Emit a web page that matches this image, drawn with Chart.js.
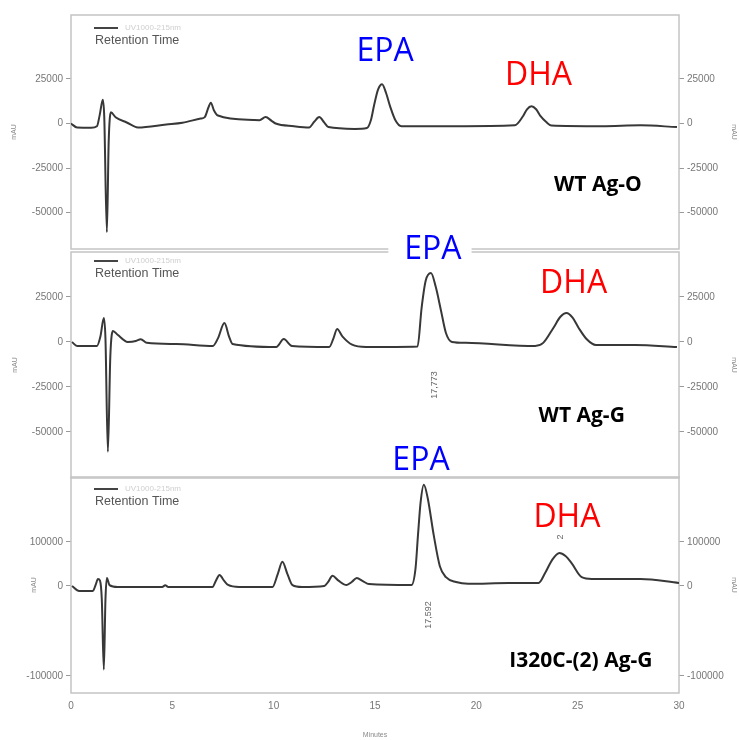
<!DOCTYPE html>
<html>
<head>
<meta charset="utf-8">
<script src="https://cdn.jsdelivr.net/npm/chart.js@4.4.1/dist/chart.umd.min.js"></script>
<style>
  html, body { margin: 0; padding: 0; background: #fff; }
  body { width: 739px; height: 740px; position: relative; overflow: hidden; }
  .panel { position: absolute; left: 0; width: 739px; }
</style>
</head>
<body>
<div class="panel" style="top:0;height:262px"><canvas id="p1"></canvas></div>
<div class="panel" style="top:230px;height:260px"><canvas id="p2"></canvas></div>
<div class="panel" style="top:440px;height:300px"><canvas id="p3"></canvas></div>
<script>
// chromatogram traces (minutes / mAU)
const p1Minutes = [0, 0.3, 1.0, 1.28, 1.42, 1.57, 1.64, 1.77, 1.86, 1.97, 2.2, 2.75, 3.3, 4.7, 5.5, 6.4, 6.6, 6.78, 6.9, 7.05, 7.25, 9.0, 9.3, 9.6, 9.9, 10.1, 11.0, 11.75, 12.0, 12.25, 12.5, 12.7, 14.0, 14.6, 14.8, 14.95, 15.15, 15.35, 15.55, 15.75, 16.0, 16.3, 19.0, 21.9, 22.3, 22.5, 22.72, 22.95, 23.17, 23.45, 23.7, 26.2, 28.1, 29.9]
const p1Mau = [0, -2200, -2300, -1500, 5000, 13400, 4000, -61000, -10000, 6300, 3500, 600, -2200, -500, 500, 2800, 3600, 9000, 11700, 7500, 4500, 2000, 1900, 3600, 1500, 0, -1500, -2200, 1000, 3600, 500, -2000, -3000, -2500, 2000, 10000, 19000, 22000, 17000, 9500, 2000, -1500, -1500, -1000, 4100, 8000, 9700, 8000, 4100, 800, -1100, -1500, -1000, -2000]

const p2Minutes = [0.05, 0.3, 1.28, 1.45, 1.62, 1.7, 1.82, 1.94, 2.07, 2.3, 2.8, 3.2, 3.44, 3.74, 5.2, 7.0, 7.25, 7.57, 7.8, 7.97, 10.13, 10.5, 10.9, 12.74, 12.95, 13.13, 13.4, 13.87, 14.56, 17.1, 17.3, 17.5, 17.76, 18.0, 18.25, 18.5, 18.8, 19.48, 22.9, 23.3, 23.8, 24.15, 24.45, 24.75, 25.05, 25.45, 25.9, 27.84, 29.9]
const p2Mau = [0, -2200, -2200, 3000, 13300, 2000, -61000, -8000, 6100, 4000, 0, 500, 1500, -500, -1100, -2200, 2000, 10500, 3000, -1100, -2800, 1600, -2200, -2800, 2000, 7200, 3000, -1500, -2800, -2500, 19000, 34000, 38300, 30500, 17800, 5000, 0, -500, -2200, -500, 7800, 14000, 16100, 13500, 7800, 1500, -1700, -1700, -2800]

const p3Minutes = [0.05, 0.4, 1.08, 1.22, 1.33, 1.43, 1.52, 1.62, 1.7, 1.77, 1.9, 2.3, 4.5, 4.65, 4.8, 6.98, 7.15, 7.33, 7.55, 7.75, 8.3, 9.94, 10.2, 10.43, 10.68, 10.93, 11.4, 12.5, 12.7, 12.9, 13.2, 13.6, 13.85, 14.1, 14.4, 14.7, 16.8, 17.0, 17.12, 17.25, 17.41, 17.6, 17.9, 18.2, 18.5, 19.0, 19.6, 21.6, 23.07, 23.4, 23.75, 24.1, 24.4, 24.7, 25.2, 25.7, 28.1, 30.0]
const p3Mau = [0, -5500, -5500, 3000, 16000, 12000, -15000, -93000, -15000, 18000, 2000, -1100, -1100, 1500, -1100, -1100, 12000, 25000, 12000, 2300, -1100, -1100, 27000, 55000, 27000, 2000, -1100, 0, 10000, 23000, 12000, 2300, 9000, 18000, 11000, 4500, 2300, 40000, 115000, 190000, 230000, 200000, 115000, 45000, 20000, 9000, 5000, 6800, 6800, 30000, 60000, 75000, 68000, 52000, 20000, 16000, 16000, 6800]

const smallTicks = [25000, 0, -25000, -50000]
const bigTicks = [100000, 0, -100000]
const minuteTicks = [0, 5, 10, 15, 20, 25, 30]
const sampleNames = ['WT Ag-O', 'WT Ag-G', 'I320C-(2) Ag-G']
const peakNames = ['EPA', 'DHA']
const retention = ['17,773', '17,592', '2']

// the scan's lower panel has a squashed positive half, so negatives get stretched
class SplitLinearScale extends Chart.LinearScale {
  determineDataLimits() {
    super.determineDataLimits()
    const k = this.options.negStretch || 1
    if (this.min < 0) this.min *= k
    if (this.max < 0) this.max *= k
  }
  getPixelForValue(value) {
    const k = this.options.negStretch || 1
    return super.getPixelForValue(value < 0 ? value * k : value)
  }
  getValueForPixel(pixel) {
    const k = this.options.negStretch || 1
    const v = super.getValueForPixel(pixel)
    return v < 0 ? v / k : v
  }
}
SplitLinearScale.id = 'splitLinear'
SplitLinearScale.defaults = Chart.LinearScale.defaults
Chart.register(SplitLinearScale)

const axisFont = { family: 'Liberation Sans, Arial, sans-serif', size: 10 }
const bigFont = '32px "Open Sans", sans-serif'
const nameFont = 'bold 21px "Open Sans", sans-serif'
const rtFont = '9px "Liberation Sans", Arial, sans-serif'
const BLUE = '#0000ff'
const RED = '#ff0000'

function panelPlugin(cfg) {
  return {
    id: 'panelDecor',
    beforeDatasetsDraw(chart) {
      const { ctx, chartArea: a } = chart
      ctx.save()
      ctx.strokeStyle = '#c4c4c4'
      ctx.lineWidth = 1.5
      ctx.strokeRect(a.left, a.top, a.right - a.left, a.bottom - a.top)
      ctx.restore()
    },
    afterDraw(chart) {
      const { ctx, chartArea: a, scales } = chart
      ctx.save()
      // legend box, top-left
      const ly = a.top + cfg.legendY
      ctx.strokeStyle = '#444'
      ctx.lineWidth = 2
      ctx.beginPath()
      ctx.moveTo(a.left + 23, ly)
      ctx.lineTo(a.left + 47, ly)
      ctx.stroke()
      ctx.fillStyle = '#cfcfcf'
      ctx.font = '8px "Liberation Sans", Arial, sans-serif'
      ctx.textBaseline = 'middle'
      ctx.fillText('UV1000-215nm', a.left + 54, ly)
      ctx.fillStyle = '#555'
      ctx.font = '12.5px "Liberation Sans", Arial, sans-serif'
      ctx.textBaseline = 'alphabetic'
      ctx.fillText('Retention Time', a.left + 24, ly + 16)

      cfg.notes.forEach((n) => {
        const px = scales.x.getPixelForValue(n.x)
        const py = scales.y.getPixelForValue(n.y)
        ctx.save()
        ctx.font = n.font
        ctx.textAlign = 'center'
        if (n.bg) {
          const w = ctx.measureText(n.text).width
          ctx.fillStyle = '#fff'
          ctx.fillRect(px - w / 2 - 16, py - 27, w + 26, 33)
        }
        ctx.fillStyle = n.color
        if (n.rotate) {
          ctx.textBaseline = 'middle'
          ctx.translate(px, py)
          ctx.rotate(-Math.PI / 2)
          ctx.fillText(n.text, 0, 0)
        } else {
          ctx.textBaseline = 'alphabetic'
          ctx.fillText(n.text, px, py)
        }
        ctx.restore()
      })
      ctx.restore()
    },
  }
}

function makePanel(id, cfg) {
  const yAxis = (pos) => ({
    type: cfg.negStretch ? 'splitLinear' : 'linear',
    position: pos,
    min: cfg.yMin,
    max: cfg.yMax,
    negStretch: cfg.negStretch,
    afterBuildTicks: (s) => {
      s.ticks = cfg.yTicks.map((v) => ({ value: v }))
    },
    afterFit: (s) => {
      s.width = pos === 'left' ? 71 : 60
    },
    grid: { drawOnChartArea: false, color: '#9a9a9a', tickLength: 5 },
    border: { display: false },
    ticks: { font: axisFont, color: '#777', padding: 3, callback: (v) => String(v) },
    title: {
      display: true,
      text: 'mAU',
      color: '#8a8a8a',
      font: { family: 'Liberation Sans, Arial, sans-serif', size: 7 },
      padding: { top: pos === 'left' ? cfg.titlePad : 1, bottom: 0 },
    },
  })

  return new Chart(document.getElementById(id), {
    type: 'line',
    data: {
      datasets: [
        {
          label: 'UV1000-215nm',
          data: cfg.minutes.map((m, i) => ({ x: m, y: cfg.mau[i] })),
          borderColor: '#383838',
          borderWidth: 2,
          pointRadius: 0,
          cubicInterpolationMode: 'monotone',
          fill: false,
        },
      ],
    },
    options: {
      responsive: true,
      maintainAspectRatio: false,
      animation: false,
      events: [],
      layout: { autoPadding: false, padding: { top: cfg.padTop, bottom: cfg.padBottom, left: 0, right: 0 } },
      plugins: { legend: { display: false }, tooltip: { enabled: false } },
      scales: {
        x: {
          type: 'linear',
          display: cfg.showX,
          min: 0,
          max: 30,
          afterBuildTicks: (s) => {
            s.ticks = minuteTicks.map((v) => ({ value: v }))
          },
          afterFit: (s) => {
            if (cfg.showX) s.height = 47
          },
          grid: { drawOnChartArea: false, drawTicks: false },
          border: { display: false },
          ticks: { font: axisFont, color: '#777', padding: 7, maxRotation: 0, callback: (v) => String(v) },
          title: {
            display: true,
            text: 'Minutes',
            color: '#8a8a8a',
            font: { family: 'Liberation Sans, Arial, sans-serif', size: 7 },
            padding: { top: 0, bottom: 1 },
          },
        },
        y: yAxis('left'),
        y2: yAxis('right'),
      },
    },
    plugins: [panelPlugin(cfg)],
  })
}

makePanel('p1', {
  minutes: p1Minutes,
  mau: p1Mau,
  yMin: -70400,
  yMax: 60900,
  yTicks: smallTicks,
  padTop: 15,
  padBottom: 13,
  titlePad: 10,
  legendY: 13,
  showX: false,
  notes: [
    { text: peakNames[0], x: 15.5, y: 35200, color: BLUE, font: bigFont },
    { text: peakNames[1], x: 23.07, y: 21800, color: RED, font: bigFont },
    { text: sampleNames[0], x: 26.0, y: -38000, color: '#000', font: nameFont },
  ],
})

makePanel('p2', {
  minutes: p2Minutes,
  mau: p2Mau,
  yMin: -75600,
  yMax: 50000,
  yTicks: smallTicks,
  padTop: 22,
  padBottom: 12,
  titlePad: 11,
  legendY: 9,
  showX: false,
  notes: [
    { text: peakNames[0], x: 17.86, y: 46100, color: BLUE, font: bigFont, bg: true },
    { text: peakNames[1], x: 24.8, y: 27200, color: RED, font: bigFont },
    { text: sampleNames[1], x: 25.2, y: -44500, color: '#000', font: nameFont },
    { text: retention[0], x: 17.96, y: -23900, color: '#666', font: rtFont, rotate: true },
  ],
})

makePanel('p3', {
  minutes: p3Minutes,
  mau: p3Mau,
  yMin: -119000,
  yMax: 247800,
  negStretch: 2.045,
  yTicks: bigTicks,
  padTop: 37,
  padBottom: 0,
  titlePad: 30,
  legendY: 12,
  showX: true,
  notes: [
    { text: peakNames[0], x: 17.27, y: 263700, color: BLUE, font: bigFont },
    { text: peakNames[1], x: 24.47, y: 134100, color: RED, font: bigFont },
    { text: sampleNames[2], x: 25.16, y: -90000, color: '#000', font: nameFont },
    { text: retention[1], x: 17.66, y: -32200, color: '#666', font: rtFont, rotate: true },
    { text: retention[2], x: 24.17, y: 111400, color: '#666', font: rtFont, rotate: true },
  ],
})
</script>
</body>
</html>
